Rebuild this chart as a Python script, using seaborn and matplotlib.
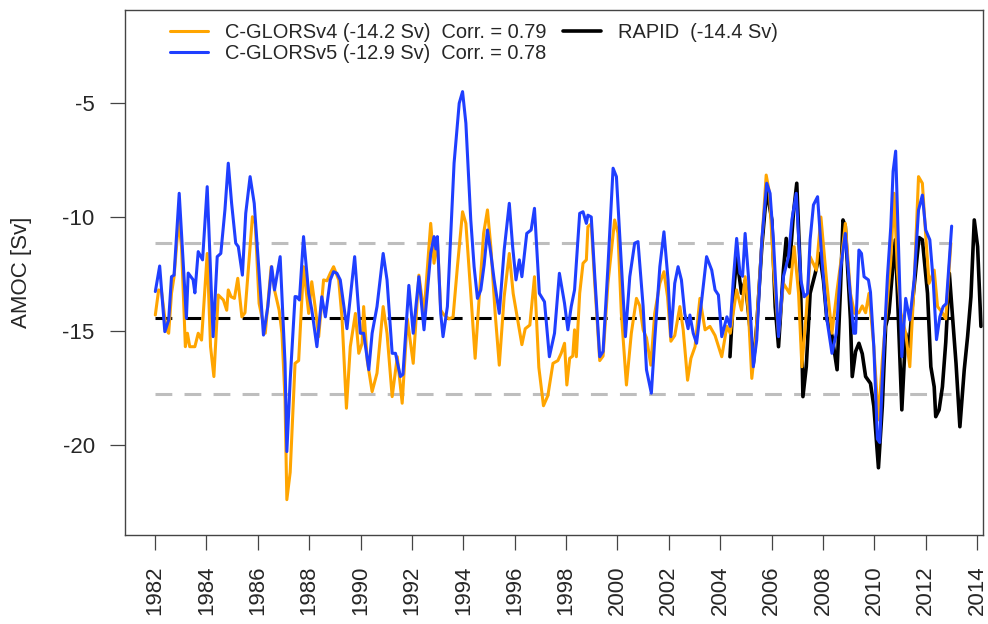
import numpy as np
import pandas as pd
import matplotlib
matplotlib.use("Agg")
import matplotlib.pyplot as plt
import seaborn as sns

# ---------------- data ----------------
t_v5 = [1982.01, 1982.18, 1982.38, 1982.53, 1982.64, 1982.74, 1982.94, 1983.22, 1983.29, 1983.48,
        1983.55, 1983.68, 1983.85, 1984.03, 1984.26, 1984.42, 1984.56, 1984.72, 1984.85, 1984.98,
        1985.14, 1985.24, 1985.40, 1985.53, 1985.70, 1985.86, 1986.02, 1986.22, 1986.39, 1986.54,
        1986.65, 1986.87, 1987.06, 1987.13, 1987.26, 1987.45, 1987.52, 1987.62, 1987.78, 1987.98,
        1988.10, 1988.30, 1988.49, 1988.63, 1988.82, 1988.95, 1989.08, 1989.21, 1989.47, 1989.77,
        1989.99, 1990.12, 1990.32, 1990.45, 1990.64, 1990.88, 1991.03, 1991.23, 1991.36, 1991.55,
        1991.65, 1991.88, 1992.05, 1992.27, 1992.47, 1992.73, 1992.86, 1992.93, 1992.99, 1993.12,
        1993.21, 1993.38, 1993.64, 1993.84, 1993.97, 1994.10, 1994.29, 1994.42, 1994.55, 1994.68,
        1994.81, 1994.94, 1995.07, 1995.20, 1995.40, 1995.59, 1995.79, 1995.92, 1996.05, 1996.18,
        1996.28, 1996.47, 1996.64, 1996.77, 1996.96, 1997.16, 1997.35, 1997.55, 1997.74, 1997.94,
        1998.07, 1998.20, 1998.33, 1998.53, 1998.66, 1998.79, 1998.85, 1998.98, 1999.11, 1999.31,
        1999.44, 1999.63, 1999.83, 1999.96, 2000.15, 2000.31, 2000.48, 2000.67, 2000.80, 2001.00,
        2001.13, 2001.32, 2001.45, 2001.65, 2001.81, 2001.97, 2002.08, 2002.23, 2002.36, 2002.49,
        2002.62, 2002.75, 2002.82, 2002.95, 2003.08, 2003.28, 2003.47, 2003.67, 2003.80, 2003.93,
        2004.06, 2004.26, 2004.39, 2004.51, 2004.64, 2004.77, 2004.87, 2004.97, 2005.10, 2005.29,
        2005.42, 2005.62, 2005.81, 2005.94, 2006.07, 2006.27, 2006.46, 2006.66, 2006.79, 2006.96,
        2007.14, 2007.27, 2007.40, 2007.50, 2007.63, 2007.79, 2007.96, 2008.15, 2008.35, 2008.52,
        2008.68, 2008.87, 2009.07, 2009.20, 2009.27, 2009.40, 2009.50, 2009.60, 2009.77, 2009.85,
        2009.98, 2010.12, 2010.21, 2010.31, 2010.51, 2010.64, 2010.73, 2010.83, 2010.94, 2011.07,
        2011.22, 2011.38, 2011.55, 2011.72, 2011.87, 2012.00, 2012.16, 2012.29, 2012.42, 2012.55,
        2012.68, 2012.80, 2012.92, 2013.01]
v5 = [-13.27, -12.15, -15.03, -14.52, -12.62, -12.55, -8.96, -14.44, -12.46, -12.75,
      -13.33, -11.52, -11.88, -8.67, -15.25, -11.74, -11.60, -9.69, -7.64, -9.40,
      -11.15, -11.30, -12.55, -9.84, -8.23, -9.40, -11.99, -15.18, -13.93, -12.18,
      -13.20, -11.74, -16.42, -20.29, -17.16, -13.49, -13.50, -13.64, -10.86, -13.35,
      -14.06, -15.69, -13.50, -14.38, -12.76, -12.40, -12.47, -12.76, -14.90, -11.74,
      -15.10, -15.10, -16.70, -15.10, -13.93, -11.60, -12.76, -15.98, -15.98, -17.00,
      -16.90, -13.00, -15.10, -12.62, -14.95, -11.60, -10.86, -11.40, -10.86, -14.23,
      -15.25, -13.93, -7.64, -5.01, -4.50, -5.89, -10.13, -12.18, -13.57, -13.20,
      -12.10, -10.57, -11.60, -12.76, -14.23, -11.45, -9.40, -11.30, -12.76, -11.88,
      -12.62, -10.72, -10.57, -9.62, -13.35, -13.72, -16.13, -15.10, -12.47, -13.79,
      -14.95, -13.93, -13.20, -9.84, -9.77, -10.28, -9.92, -10.00, -12.47, -16.13,
      -15.90, -12.18, -7.86, -8.23, -12.03, -15.25, -12.62, -11.15, -11.08, -13.93,
      -16.70, -17.73, -15.40, -12.18, -10.65, -12.76, -15.25, -12.91, -12.18, -12.76,
      -14.23, -14.90, -14.30, -15.10, -15.54, -13.64, -11.74, -12.33, -13.20, -13.42,
      -15.25, -14.38, -14.80, -12.76, -10.94, -12.47, -12.60, -10.72, -12.62, -16.57,
      -15.40, -11.00, -8.52, -8.96, -11.00, -15.25, -12.62, -11.74, -10.13, -8.96,
      -12.76, -13.50, -13.35, -11.00, -9.47, -9.11, -11.88, -14.47, -15.98, -15.10,
      -12.33, -10.72, -13.50, -15.10, -15.10, -11.45, -11.60, -12.62, -12.76, -13.30,
      -15.69, -19.74, -19.89, -17.10, -12.62, -10.43, -8.00, -7.11, -11.30, -16.13,
      -13.57, -14.52, -12.76, -9.70, -9.04, -10.57, -11.00, -12.76, -15.38, -14.38,
      -13.93, -13.80, -11.88, -10.40]

t_v4 = [1982.01, 1982.14, 1982.25, 1982.44, 1982.53, 1982.64, 1982.74, 1982.92, 1983.03, 1983.18,
        1983.26, 1983.35, 1983.55, 1983.68, 1983.81, 1984.03, 1984.16, 1984.29, 1984.46, 1984.66,
        1984.79, 1984.85, 1984.96, 1985.09, 1985.22, 1985.38, 1985.50, 1985.64, 1985.79, 1985.90,
        1986.05, 1986.29, 1986.52, 1986.65, 1986.83, 1986.94, 1987.06, 1987.13, 1987.26, 1987.45,
        1987.59, 1987.78, 1987.98, 1988.10, 1988.23, 1988.37, 1988.56, 1988.69, 1988.82, 1988.95,
        1989.15, 1989.28, 1989.45, 1989.60, 1989.80, 1989.93, 1990.06, 1990.12, 1990.26, 1990.45,
        1990.64, 1990.88, 1991.03, 1991.23, 1991.43, 1991.62, 1991.82, 1992.05, 1992.27, 1992.47,
        1992.73, 1992.86, 1992.99, 1993.12, 1993.25, 1993.44, 1993.60, 1993.77, 1993.97, 1994.10,
        1994.29, 1994.46, 1994.62, 1994.79, 1994.94, 1995.07, 1995.24, 1995.40, 1995.59, 1995.79,
        1995.94, 1996.11, 1996.28, 1996.41, 1996.59, 1996.77, 1996.94, 1997.12, 1997.29, 1997.49,
        1997.68, 1997.81, 1997.94, 1998.03, 1998.14, 1998.26, 1998.33, 1998.40, 1998.53, 1998.66,
        1998.79, 1998.85, 1998.98, 1999.11, 1999.31, 1999.44, 1999.63, 1999.89, 2000.02, 2000.15,
        2000.35, 2000.54, 2000.74, 2000.87, 2001.00, 2001.13, 2001.30, 2001.45, 2001.65, 2001.81,
        2001.95, 2002.08, 2002.23, 2002.43, 2002.56, 2002.73, 2002.86, 2003.02, 2003.21, 2003.41,
        2003.60, 2003.80, 2004.06, 2004.26, 2004.39, 2004.51, 2004.64, 2004.83, 2004.97, 2005.10,
        2005.23, 2005.36, 2005.56, 2005.79, 2005.92, 2006.07, 2006.27, 2006.46, 2006.70, 2006.88,
        2007.05, 2007.18, 2007.35, 2007.50, 2007.74, 2007.92, 2008.15, 2008.35, 2008.55, 2008.74,
        2008.87, 2009.07, 2009.23, 2009.40, 2009.53, 2009.66, 2009.79, 2009.98, 2010.16, 2010.31,
        2010.51, 2010.64, 2010.77, 2010.90, 2011.03, 2011.22, 2011.38, 2011.55, 2011.72, 2011.87,
        2012.00, 2012.13, 2012.33, 2012.46, 2012.65, 2012.78, 2012.98]
v4 = [-14.30, -13.20, -13.27, -14.95, -15.10, -13.35, -12.62, -10.13, -11.30, -15.69,
      -15.10, -15.69, -15.69, -15.10, -15.40, -11.60, -15.69, -17.00, -13.42, -13.64,
      -14.09, -13.20, -13.50, -13.57, -12.69, -14.38, -14.20, -12.18, -9.99, -10.28,
      -13.79, -15.10, -12.18, -13.20, -14.09, -15.10, -18.03, -22.40, -21.20, -16.42,
      -16.30, -12.18, -14.23, -12.84, -13.93, -15.25, -12.76, -12.80, -12.47, -12.18,
      -12.76, -14.47, -18.39, -15.69, -14.23, -15.98, -15.54, -13.93, -16.30, -17.66,
      -16.85, -13.93, -15.10, -17.88, -16.13, -18.17, -14.47, -16.42, -12.55, -14.23,
      -10.28, -12.03, -11.00, -14.09, -14.30, -14.47, -14.40, -12.18, -9.77, -10.28,
      -13.35, -16.20, -13.50, -10.72, -9.69, -11.30, -14.23, -16.50, -13.50, -11.60,
      -13.35, -14.47, -15.60, -14.90, -14.74, -12.62, -16.60, -18.28, -17.84, -16.42,
      -16.30, -15.98, -15.54, -17.37, -16.20, -16.10, -14.95, -16.13, -13.35, -12.03,
      -11.88, -10.43, -10.30, -12.80, -16.30, -16.10, -12.91, -10.13, -10.70, -14.20,
      -17.37, -15.10, -13.57, -13.90, -14.95, -15.30, -16.50, -14.23, -12.91, -12.40,
      -13.50, -15.45, -15.20, -13.93, -14.95, -17.16, -16.20, -15.69, -13.57, -14.95,
      -14.80, -15.20, -16.13, -14.80, -15.10, -14.20, -13.20, -14.09, -12.62, -14.20,
      -17.08, -15.70, -12.18, -8.16, -8.96, -12.18, -15.10, -12.91, -13.35, -11.30,
      -13.35, -16.57, -14.23, -11.74, -12.33, -10.00, -12.91, -15.10, -13.20, -11.60,
      -10.28, -13.35, -14.23, -14.20, -13.90, -14.20, -13.35, -15.69, -18.90, -16.30,
      -13.64, -11.90, -8.96, -12.40, -14.20, -15.10, -16.57, -12.91, -8.23, -8.52,
      -10.80, -12.91, -12.33, -13.93, -14.20, -14.47, -11.15]

t_rapid = [2004.38, 2004.51, 2004.64, 2004.83, 2004.97, 2005.10, 2005.29, 2005.42, 2005.62, 2005.81,
           2006.01, 2006.14, 2006.27, 2006.46, 2006.57, 2006.70, 2006.85, 2006.98, 2007.12, 2007.22,
           2007.35, 2007.50, 2007.70, 2007.87, 2008.02, 2008.15, 2008.35, 2008.55, 2008.68, 2008.78,
           2008.87, 2009.07, 2009.14, 2009.27, 2009.40, 2009.53, 2009.66, 2009.85, 2009.98, 2010.16,
           2010.31, 2010.44, 2010.57, 2010.70, 2010.82, 2011.07, 2011.22, 2011.35, 2011.50, 2011.74,
           2011.87, 2012.07, 2012.20, 2012.33, 2012.39, 2012.52, 2012.65, 2012.78, 2012.92, 2013.05,
           2013.18, 2013.33, 2013.50, 2013.63, 2013.76, 2013.89, 2014.02, 2014.15]
v_rapid = [-16.13, -13.50, -11.74, -13.35, -12.80, -14.20, -16.42, -14.80, -11.30, -8.82,
           -10.13, -13.93, -15.69, -12.33, -10.94, -12.18, -9.84, -8.52, -12.47, -17.88,
           -16.57, -13.35, -12.47, -11.60, -12.80, -14.47, -15.20, -16.70, -13.20, -10.13,
           -10.40, -14.50, -17.00, -15.90, -15.54, -16.00, -17.00, -17.30, -18.30, -21.00,
           -18.30, -14.80, -14.20, -12.47, -11.00, -18.46, -15.10, -15.70, -13.60, -10.90,
           -11.00, -13.35, -16.57, -17.45, -18.76, -18.46, -17.45, -15.50, -12.47, -14.47,
           -16.42, -19.20, -16.70, -15.25, -13.50, -10.13, -11.30, -14.80]

ref_mean = -14.45
ref_band = [-11.15, -17.76]

labels = ["C-GLORSv4 (-14.2 Sv)  Corr. = 0.79",
          "C-GLORSv5 (-12.9 Sv)  Corr. = 0.78",
          "RAPID  (-14.4 Sv)"]
year_ticks = list(range(1982, 2015, 2))
amoc_ticks = [-20, -15, -10, -5]

# ---------------- figure ----------------
sns.set_style("white")
plt.rcParams['font.family'] = ['Liberation Sans', 'DejaVu Sans']

fig = plt.figure(figsize=(9.88, 6.24), dpi=100)
ax = fig.add_axes([125/988, 1 - 535/624, (983 - 125)/988, (535 - 10)/624])

c_v4 = "#FFA500"
c_v5 = "#1F3FFF"

x0, x1 = t_v4[0], t_v4[-1]
dash = (5.5, 4.0)
for yb in ref_band:
    ax.plot([x0, x1], [yb, yb], color="#BEBEBE", lw=2.2, dashes=dash, zorder=1)
ax.plot([x0, x1], [ref_mean, ref_mean], color="black", lw=2.2, dashes=dash, zorder=1)

df4 = pd.DataFrame({"t": t_v4, "v": v4})
df5 = pd.DataFrame({"t": t_v5, "v": v5})
dfr = pd.DataFrame({"t": t_rapid, "v": v_rapid})

sns.lineplot(data=dfr, x="t", y="v", ax=ax, color="black", lw=2.6, estimator=None,
             sort=False, label=labels[2], zorder=2)
sns.lineplot(data=df4, x="t", y="v", ax=ax, color=c_v4, lw=1.7, estimator=None,
             sort=False, label=labels[0], zorder=3)
sns.lineplot(data=df5, x="t", y="v", ax=ax, color=c_v5, lw=1.7, estimator=None,
             sort=False, label=labels[1], zorder=4)

ax.set_xlim(1980.83, 2014.23)
ax.set_ylim(-23.95, -0.92)

ax.set_xticks(year_ticks)
ax.set_xticklabels([str(y) for y in year_ticks], rotation=90, fontsize=16)
ax.set_yticks(amoc_ticks)
ax.set_yticklabels([str(v) for v in amoc_ticks], fontsize=16)
ax.tick_params(axis="both", which="both", direction="out", length=10.8, width=0.9,
               color="#444444", pad=11, left=True, bottom=True)
ax.set_xlabel("")
ax.set_ylabel("AMOC [Sv]", fontsize=16)
ax.yaxis.set_label_coords(-0.108, 0.5)

for s in ax.spines.values():
    s.set_visible(True)
    s.set_color("#444444")
    s.set_linewidth(1.0)

h, l = ax.get_legend_handles_labels()
order = [labels.index(x) for x in labels]
hd = dict(zip(l, h))
handles = [hd[labels[0]], hd[labels[1]], hd[labels[2]]]
for hh in handles:
    hh.set_linewidth(2.2 if hh.get_color() != "black" else 2.6)
ax.legend(handles, labels, ncol=2, frameon=False, fontsize=14.4,
          loc="upper left", bbox_to_anchor=(0.052, 0.975), borderaxespad=0, borderpad=0,
          handlelength=1.9, handletextpad=0.85, columnspacing=0.85, labelspacing=0.1)

fig.savefig("out.png", dpi=100)
